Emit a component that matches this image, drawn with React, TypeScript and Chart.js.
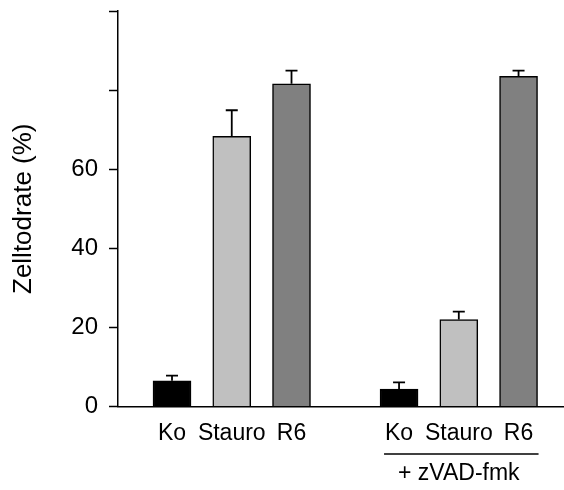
import React, { useEffect, useRef } from 'react';
import { Chart, registerables } from 'chart.js';
Chart.register(...registerables);

const categories = ['Ko', 'Stauro', 'R6', 'Ko', 'Stauro', 'R6'];
const xPositions = [0, 1, 2, 3.8, 4.8, 5.8];
const values = [6.5, 68.3, 81.6, 4.4, 22.0, 83.5];
const errors = [1.3, 6.6, 3.3, 1.7, 2.0, 1.4];
const barColors = ['#000000', '#c0c0c0', '#808080', '#000000', '#c0c0c0', '#808080'];
const yTicks = [0, 20, 40, 60, 80, 100];
const yTickLabels = ['0', '20', '40', '60', '', ''];
const groupLabel = '+ zVAD-fmk';
const yTitle = 'Zelltodrate (%)';

const FONT = '"Liberation Sans", Arial, Helvetica, sans-serif';

export default function App() {
  const ref = useRef<HTMLCanvasElement | null>(null);
  useEffect(() => {
    if (!ref.current) return;
    const errorBars = {
      id: 'errorBars',
      afterDatasetsDraw(chart: any) {
        const ctx = chart.ctx;
        const ys = chart.scales.y;
        const meta = chart.getDatasetMeta(0);
        ctx.save();
        ctx.strokeStyle = '#000';
        ctx.lineWidth = 1.8;
        meta.data.forEach((el: any, i: number) => {
          const top = ys.getPixelForValue(values[i] + errors[i]);
          ctx.beginPath();
          ctx.moveTo(el.x, el.y);
          ctx.lineTo(el.x, top);
          ctx.moveTo(el.x - 6, top);
          ctx.lineTo(el.x + 6, top);
          ctx.stroke();
        });
        ctx.restore();
      },
    };
    const groupPlugin = {
      id: 'groupLabel',
      afterDraw(chart: any) {
        const ctx = chart.ctx;
        const xs = chart.scales.x;
        const x1 = xs.getPixelForValue(xPositions[3]) - 15;
        const x2 = xs.getPixelForValue(xPositions[5]) + 20;
        const y = 454;
        ctx.save();
        ctx.strokeStyle = '#000';
        ctx.lineWidth = 1.5;
        ctx.beginPath();
        ctx.moveTo(x1, y);
        ctx.lineTo(x2, y);
        ctx.stroke();
        ctx.fillStyle = '#000';
        ctx.font = `23px ${FONT}`;
        ctx.textAlign = 'center';
        ctx.textBaseline = 'middle';
        ctx.fillText(groupLabel, xs.getPixelForValue(xPositions[4]), 474);
        ctx.restore();
      },
    };
    const chart = new Chart(ref.current, {
      type: 'bar',
      data: {
        datasets: [
          {
            data: xPositions.map((x, i) => ({ x, y: values[i] })),
            backgroundColor: barColors,
            borderColor: '#000',
            borderWidth: 1.5,
            barThickness: 38,
          } as any,
        ],
      },
      plugins: [errorBars, groupPlugin],
      options: {
        animation: false,
        responsive: false,
        maintainAspectRatio: false,
        layout: { padding: { top: 11, right: 1, bottom: 0, left: 0 } },
        plugins: { legend: { display: false }, tooltip: { enabled: false } },
        scales: {
          x: {
            type: 'linear',
            offset: false,
            min: -0.904,
            max: 6.544,
            grid: { display: false, drawTicks: false },
            border: { display: true, color: '#000', width: 1.5 },
            afterFit: (s: any) => { s.height = 83.5; s.paddingLeft = 0; s.paddingRight = 0; },
            afterBuildTicks: (s: any) => { s.ticks = xPositions.map((v) => ({ value: v })); },
            ticks: {
              padding: 13,
              color: '#000',
              font: { family: FONT, size: 23 },
              autoSkip: false,
              maxRotation: 0,
              callback: (_v: any, i: number) => categories[i],
            },
          },
          y: {
            min: 0,
            max: 100,
            afterFit: (s: any) => { s.width = 118; s.paddingTop = 0; s.paddingBottom = 0; },
            afterBuildTicks: (s: any) => { s.ticks = yTicks.map((v) => ({ value: v })); },
            grid: { drawOnChartArea: false, drawTicks: true, tickLength: 9, tickColor: '#000', tickWidth: 1.5 },
            border: { display: true, color: '#000', width: 1.5 },
            title: {
              display: true,
              text: yTitle,
              color: '#000',
              font: { family: FONT, size: 26 },
              padding: { top: 8.5, bottom: 0 },
            },
            ticks: {
              padding: 11,
              color: '#000',
              font: { family: FONT, size: 24 },
              callback: (_v: any, i: number) => yTickLabels[i],
            },
          },
        },
      } as any,
    });
    return () => chart.destroy();
  }, []);
  return (
    <div style={{ position: 'absolute', left: 0, top: 0, width: 564, height: 490, background: '#fff' }}>
      <canvas ref={ref} width={564} height={490} style={{ display: 'block' }} />
    </div>
  );
}
